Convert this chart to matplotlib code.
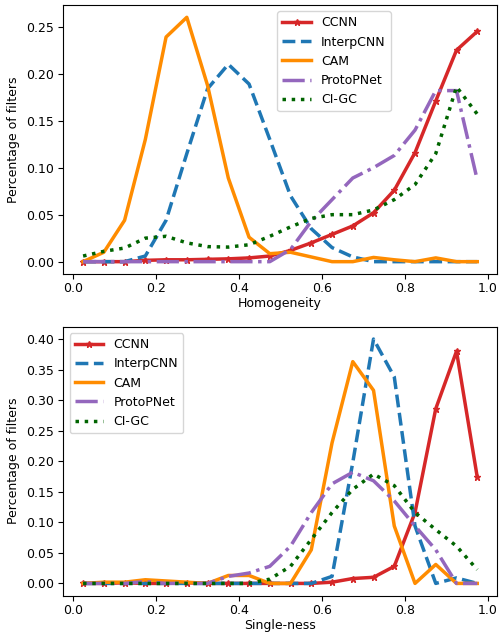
import numpy as np
import matplotlib
matplotlib.use("Agg")
import matplotlib.pyplot as plt

bins = np.arange(0.025, 1.0, 0.05)

# Homogeneity
hom_ccnn = [0, 0, 0, 0.0014, 0.002, 0.002, 0.0025, 0.003, 0.004, 0.006,
            0.012, 0.020, 0.029, 0.038, 0.052, 0.076, 0.116, 0.171, 0.225, 0.245]
hom_interp = [0, 0, 0, 0.006, 0.044, 0.115, 0.184, 0.21, 0.189, 0.13,
              0.07, 0.035, 0.015, 0.005, 0, 0, 0, 0, 0, 0]
hom_cam = [0, 0.01, 0.044, 0.13, 0.239, 0.26, 0.1875, 0.089, 0.026, 0.0085,
           0.01, 0.005, 0, 0, 0.0045, 0.002, 0, 0.004, 0, 0]
hom_proto = [0, 0, 0, 0, 0, 0, 0, 0, 0, 0,
             0.013, 0.043, 0.066, 0.089, 0.10, 0.113, 0.14, 0.182, 0.182, 0.087]
hom_cigc = [0.006, 0.011, 0.0145, 0.025, 0.027, 0.020, 0.016, 0.0155, 0.018, 0.027,
            0.037, 0.046, 0.05, 0.05, 0.055, 0.066, 0.082, 0.115, 0.186, 0.157]

# Single-ness
sin_ccnn = [0, 0, 0.001, 0, 0, 0.001, 0, 0, 0, 0,
            0, 0, 0.002, 0.008, 0.01, 0.028, 0.116, 0.286, 0.38, 0.174]
sin_interp = [0, 0, 0, 0, 0, 0, 0, 0, 0, 0,
              0, 0, 0.0115, 0.198, 0.40, 0.338, 0.094, 0, 0.009, 0]
sin_cam = [0, 0.002, 0.002, 0.006, 0.004, 0.002, 0, 0.013, 0.013, 0,
           0, 0.055, 0.23, 0.363, 0.316, 0.094, 0, 0.031, 0, 0]
sin_proto = [0, 0, 0, 0.003, 0, 0, 0, 0.0115, 0.017, 0.028,
             0.061, 0.116, 0.163, 0.182, 0.168, 0.135, 0.094, 0.055, 0, 0]
sin_cigc = [0, 0, 0, 0, 0, 0, 0, 0, 0, 0.007,
            0.028, 0.072, 0.116, 0.154, 0.179, 0.16, 0.116, 0.088, 0.061, 0.0225]

labels = ["CCNN", "InterpCNN", "CAM", "ProtoPNet", "CI-GC"]
styles = [
    dict(color="#d62728", linestyle="-", marker="*", markersize=5),
    dict(color="#1f77b4", linestyle="--"),
    dict(color="darkorange", linestyle="-"),
    dict(color="#9467bd", linestyle="-."),
    dict(color="darkgreen", linestyle=":"),
]

plt.rcParams["font.size"] = 9


def draw(ax, series, xlabel):
    for y, lab, st in zip(series, labels, styles):
        ax.plot(bins, y, label=lab, linewidth=2.5, **st)
    ax.set_xlabel(xlabel, labelpad=1.5)
    ax.set_ylabel("Percentage of filters")
    ax.tick_params(axis="x", pad=2.5)


fig, (ax1, ax2) = plt.subplots(2, 1, figsize=(5.03, 6.35), dpi=100)
draw(ax1, [hom_ccnn, hom_interp, hom_cam, hom_proto, hom_cigc], "Homogeneity")
ax1.legend(loc="upper center", bbox_to_anchor=(0.624, 1.0), handlelength=2.3)
draw(ax2, [sin_ccnn, sin_interp, sin_cam, sin_proto, sin_cigc], "Single-ness")
ax2.legend(loc="upper left", handlelength=2.3)

fig.subplots_adjust(left=0.126, right=0.988, top=0.992, bottom=0.062, hspace=0.197)
fig.savefig("out.png")
